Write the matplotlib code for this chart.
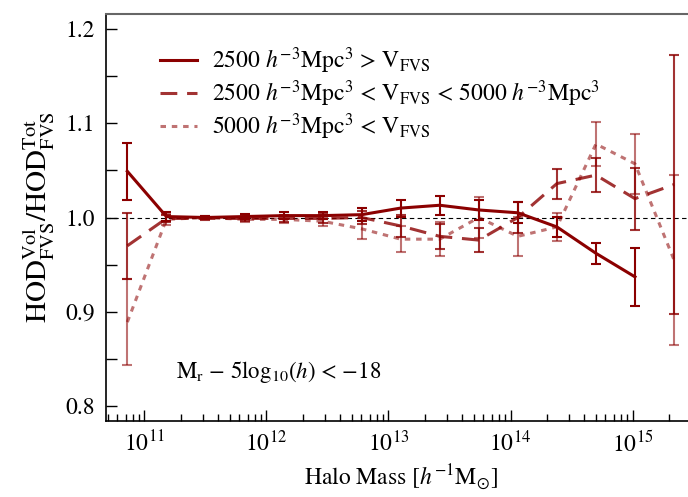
import numpy as np
import matplotlib
matplotlib.use('Agg')
import matplotlib.pyplot as plt
from matplotlib.lines import Line2D
from matplotlib.ticker import LogLocator, MultipleLocator, NullFormatter

plt.rcParams['font.family'] = ['STIXGeneral', 'DejaVu Serif']
plt.rcParams['mathtext.fontset'] = 'stix'

# log10 halo mass bin centres
log_mass = [10.86, 11.18, 11.50, 11.82, 12.14, 12.46, 12.78, 13.10,
            13.42, 13.74, 14.06, 14.38, 14.70, 15.02, 15.34]

# 2500 > V_FVS
small_val = [1.049, 1.001, 1.000, 1.001, 1.002, 1.002, 1.003, 1.010,
             1.013, 1.008, 1.005, 0.990, 0.962, 0.937]
small_err = [0.030, 0.005, 0.002, 0.003, 0.004, 0.004, 0.007, 0.009,
             0.010, 0.011, 0.011, 0.011, 0.011, 0.031]

# 2500 < V_FVS < 5000
mid_val = [0.970, 0.999, 0.999, 0.999, 0.999, 0.999, 1.000, 0.991,
           0.980, 0.976, 1.000, 1.036, 1.045, 1.020, 1.035]
mid_err = [0.035, 0.004, 0.002, 0.003, 0.004, 0.005, 0.007, 0.012,
           0.013, 0.013, 0.016, 0.016, 0.018, 0.033, 0.137]

# 5000 < V_FVS
big_val = [0.889, 0.998, 1.000, 0.998, 0.998, 0.996, 0.988, 0.977,
           0.977, 1.000, 0.980, 0.990, 1.078, 1.057, 0.955]
big_err = [0.046, 0.006, 0.002, 0.003, 0.004, 0.005, 0.011, 0.014,
           0.018, 0.022, 0.021, 0.015, 0.023, 0.032, 0.090]

labels = [r'2500 $h^{-3}$Mpc$^3$ > V$_{\rm FVS}$',
          r'2500 $h^{-3}$Mpc$^3$ < V$_{\rm FVS}$ < 5000 $h^{-3}$Mpc$^3$',
          r'5000 $h^{-3}$Mpc$^3$ < V$_{\rm FVS}$']

mass = 10.0 ** np.array(log_mass)

fig = plt.figure(figsize=(6.88, 4.97), dpi=100)
ax = fig.add_axes([106/688, 76/497, 590/688, 407/497])

col = '#8b0000'
styles = ['-', (0, (5.5, 3.2)), (0, (1.8, 1.9))]
alphas = [1.0, 0.8, 0.55]
ax.errorbar(mass[:len(small_val)], small_val, yerr=small_err, color=col, lw=2.2,
            ls=styles[0], capsize=3.5, capthick=1.5, elinewidth=1.5)
ax.errorbar(mass, mid_val, yerr=mid_err, color=col, alpha=alphas[1], lw=2.2,
            ls=styles[1], capsize=3.5, capthick=1.5, elinewidth=1.5)
ax.errorbar(mass, big_val, yerr=big_err, color=col, alpha=alphas[2], lw=2.2,
            ls=styles[2], capsize=3.5, capthick=1.5, elinewidth=1.5)

ax.axhline(1.0, color='black', lw=0.8, ls=(0, (4, 3)), zorder=0)

ax.set_xscale('log')
ax.set_xlim(10**10.685, 10**15.52)
ax.set_ylim(0.784, 1.216)
ax.yaxis.set_major_locator(MultipleLocator(0.1))
ax.yaxis.set_minor_locator(MultipleLocator(0.05))
ax.xaxis.set_major_locator(LogLocator(base=10, numticks=10))
ax.xaxis.set_minor_locator(LogLocator(base=10, subs=np.arange(2, 10), numticks=20))
ax.xaxis.set_minor_formatter(NullFormatter())
ax.tick_params(which='both', direction='in', labelsize=17)
ax.tick_params(which='major', length=8, width=1)
ax.tick_params(which='minor', length=5, width=1)
ax.tick_params(axis='y', which='minor', length=8)
ax.tick_params(axis='x', pad=7)
ax.tick_params(axis='y', pad=8)
for s in ['top', 'right']:
    ax.spines[s].set_color('#666666')
    ax.spines[s].set_linewidth(1.5)
ax.spines['left'].set_linewidth(1.2)
ax.spines['bottom'].set_linewidth(1.2)

ax.set_xlabel(r'Halo Mass [$h^{-1}$M$_{\odot}$]', fontsize=17, labelpad=4)
ax.set_ylabel(r'HOD$^{\rm Vol}_{\rm FVS}$/HOD$^{\rm Tot}_{\rm FVS}$', fontsize=21, labelpad=6)

ax.text(0.118, 0.105, r'M$_{\rm r}$ $-$ 5log$_{10}$($h$) < $-$18', transform=ax.transAxes,
        fontsize=16.5)

handles = [Line2D([], [], color=col, lw=2.2, ls=styles[i], alpha=alphas[i]) for i in range(3)]
ax.legend(handles, labels, loc='upper left', bbox_to_anchor=(0.055, 0.975), frameon=False,
          fontsize=17, handlelength=1.6, handletextpad=0.6, labelspacing=0.1)

fig.savefig('out.png', dpi=100)
